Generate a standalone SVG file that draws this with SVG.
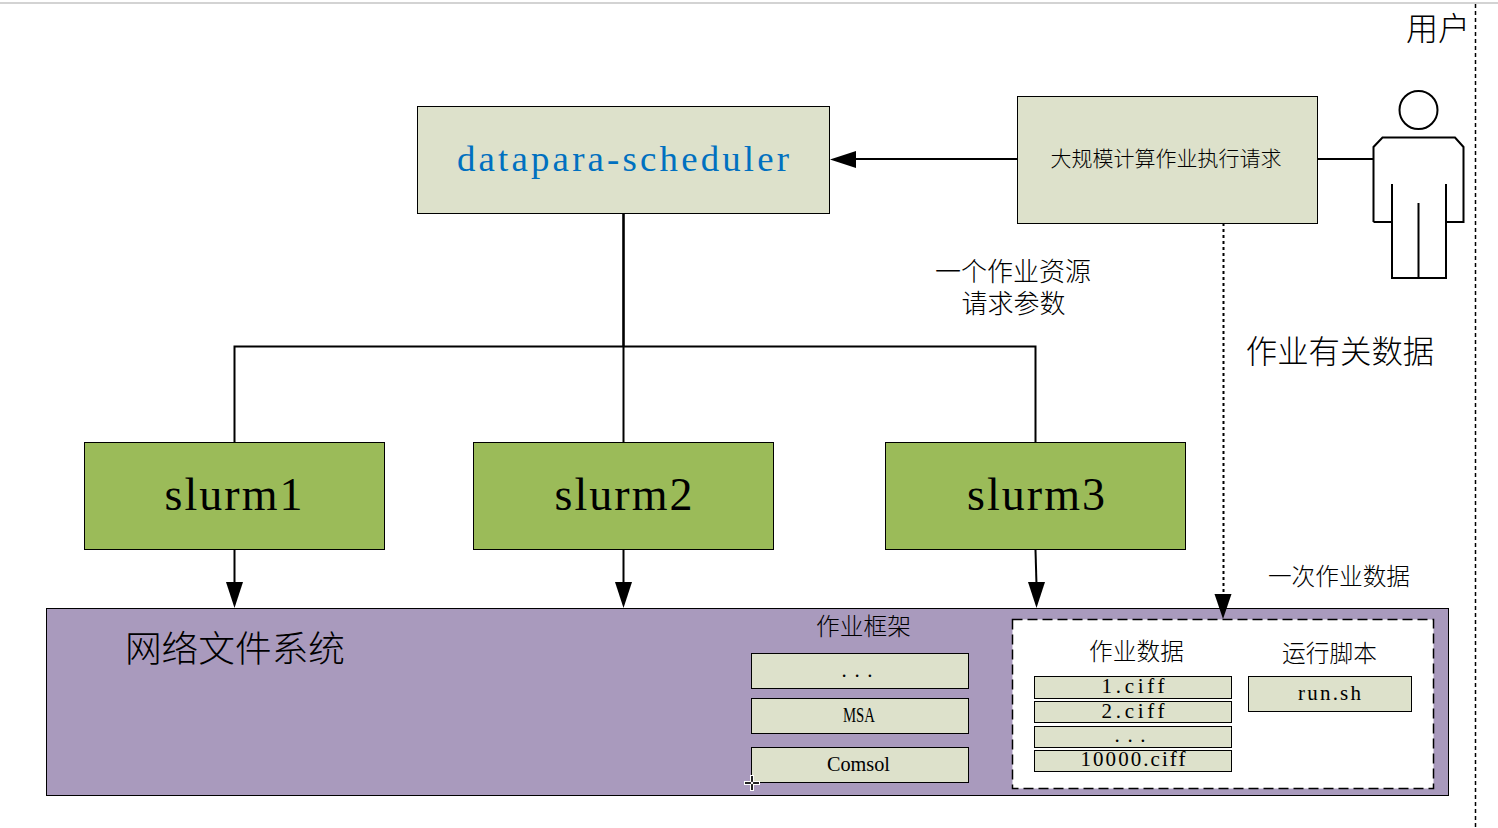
<svg xmlns="http://www.w3.org/2000/svg" width="1498" height="828" viewBox="0 0 1498 828">
<style>
text{text-anchor:middle;dominant-baseline:central;fill:#000}
.c{font-family:"Noto Sans CJK SC","Liberation Sans",sans-serif;font-weight:300}
.m{font-family:"Liberation Serif","DejaVu Serif",serif;font-size:21px}
.b{fill:#DDE1CB;stroke:#000;stroke-width:1}
.g{fill:#9BBB59;stroke:#000;stroke-width:1}
.l{fill:none;stroke:#000;stroke-width:2}
</style>
<rect width="1498" height="828" fill="#fff"/>
<path d="M0 3H1498" stroke="#c4c4c4" stroke-width="1.5" fill="none"/>
<path d="M1475.500 4V828" stroke="#000" stroke-width="1.500" stroke-dasharray="4 3" fill="none"/>
<text class="c" x="1438" y="26" font-size="32">用户</text>

<g id="fs">
<rect x="46.500" y="608.500" width="1402" height="187" fill="#A99ABD" stroke="#000"/>
<text class="c" x="235" y="645.500" font-size="36.700">网络文件系统</text>
</g>
<g id="frame">
<text class="c" x="863.500" y="625" font-size="23.700">作业框架</text>
<rect class="b" x="751.500" y="653.500" width="217" height="35"/>
<text class="m" x="857" y="670" textLength="31" lengthAdjust="spacing">...</text>
<rect class="b" x="751.500" y="698.500" width="217" height="35"/>
<text class="m" x="859" y="715" textLength="32" lengthAdjust="spacingAndGlyphs">MSA</text>
<rect class="b" x="751.500" y="747.500" width="217" height="35"/>
<text class="m" x="858.500" y="764" textLength="63" lengthAdjust="spacingAndGlyphs">Comsol</text>
</g>
<g id="jobdata">
<rect x="1012.500" y="619.500" width="421" height="169" fill="#fff" stroke="#000" stroke-width="1.500" stroke-dasharray="10 5"/>
<text class="c" x="1136.500" y="650" font-size="23.700">作业数据</text>
<text class="c" x="1329.500" y="652" font-size="23.700">运行脚本</text>
<rect class="b" x="1034.500" y="676.500" width="197" height="22"/>
<text class="m" x="1133" y="686" textLength="63" lengthAdjust="spacing">1.ciff</text>
<rect class="b" x="1034.500" y="701.500" width="197" height="21"/>
<text class="m" x="1133" y="711" textLength="63" lengthAdjust="spacing">2.ciff</text>
<rect class="b" x="1034.500" y="726.500" width="197" height="21"/>
<text class="m" x="1130" y="735" textLength="31" lengthAdjust="spacing">...</text>
<rect class="b" x="1034.500" y="750.500" width="197" height="21"/>
<text class="m" x="1133" y="759" textLength="105" lengthAdjust="spacing">10000.ciff</text>
<rect class="b" x="1248.500" y="676.500" width="163" height="35"/>
<text class="m" x="1329.500" y="693" textLength="63" lengthAdjust="spacing">run.sh</text>
</g>

<g id="connectors">
<path class="l" d="M1017 159H855"/>
<path class="l" d="M1318 159H1373"/>
<path d="M830 159.500L856 151V168Z" fill="#000"/>
<path d="M623.500 213V346" stroke="#000" stroke-width="2.600" fill="none"/>
<path class="l" d="M623.500 346V443"/>
<path class="l" d="M234.500 443V346.500H1035.500V443"/>
<path class="l" d="M234.500 550V585"/>
<path class="l" d="M623.500 550V585"/>
<path class="l" d="M1035.500 550L1036.500 585"/>
<path d="M234.500 608L226 582H243Z" fill="#000"/>
<path d="M623.500 608L615 582H632Z" fill="#000"/>
<path d="M1036.500 608L1028 582H1045Z" fill="#000"/>
<path d="M1223.500 223V595" stroke="#000" stroke-width="2" stroke-dasharray="3 3" fill="none"/>
<path d="M1223 619L1214.500 594H1231.500Z" fill="#000"/>
</g>

<g id="scheduler">
<rect class="b" x="417.500" y="106.500" width="412" height="107"/>
<text x="623" y="158" font-family="Liberation Serif, serif" font-size="36.800" textLength="332" lengthAdjust="spacing" style="fill:#0070C0">datapara-scheduler</text>
</g>
<g id="request">
<rect class="b" x="1017.500" y="96.500" width="300" height="127"/>
<text class="c" x="1166" y="157" font-size="21">大规模计算作业执行请求</text>
</g>
<g id="user">
<circle cx="1418.500" cy="110" r="19" fill="#fff" stroke="#000" stroke-width="2"/>
<path class="l" d="M1373.500 222V147L1382.500 137.500H1455L1463.500 147V222H1446M1373.500 222H1392M1392 184V278H1446V184M1418.500 203V278"/>
</g>
<g id="slurm1">
<rect class="g" x="84.500" y="442.500" width="300" height="107"/>
<text x="233.500" y="494" font-family="Liberation Serif, serif" font-size="46" textLength="138" lengthAdjust="spacing">slurm1</text>
</g>
<g id="slurm2">
<rect class="g" x="473.500" y="442.500" width="300" height="107"/>
<text x="623.500" y="494" font-family="Liberation Serif, serif" font-size="46" textLength="138" lengthAdjust="spacing">slurm2</text>
</g>
<g id="slurm3">
<rect class="g" x="885.500" y="442.500" width="300" height="107"/>
<text x="1036" y="494" font-family="Liberation Serif, serif" font-size="46" textLength="138" lengthAdjust="spacing">slurm3</text>
</g>
<text class="c" font-size="26"><tspan x="1013" y="269">一个作业资源</tspan><tspan x="1013.500" y="301">请求参数</tspan></text>
<text class="c" x="1340" y="349" font-size="31.400">作业有关数据</text>
<text class="c" x="1339" y="575" font-size="23.700">一次作业数据</text>
<path d="M752 775V791M744 783H760" stroke="#fff" stroke-width="4" fill="none"/>
<path d="M752 776V790M745 783H759" stroke="#222" stroke-width="2" fill="none"/>
<circle cx="752" cy="783" r="1.200" fill="#fff"/>
</svg>
